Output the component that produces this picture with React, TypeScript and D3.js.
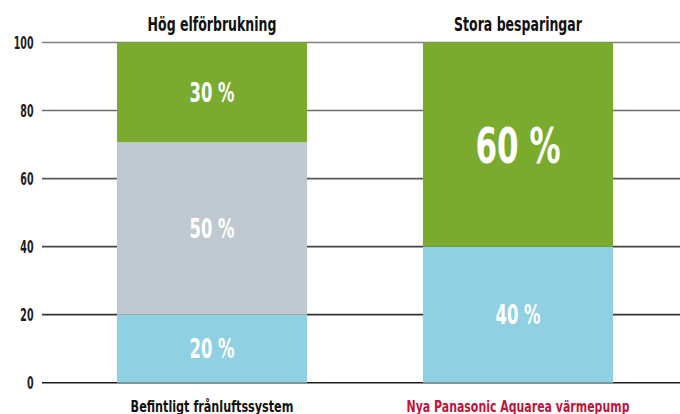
import React, { useLayoutEffect, useRef, useState } from "react";
import * as d3 from "d3";

const categories = ["Befintligt frånluftssystem", "Nya Panasonic Aquarea värmepump"];
const topTitles = ["Hög elförbrukning", "Stora besparingar"];
// segment heights as drawn in the picture
const segBlue = [20, 40];
const segGray = [50.7, 0];
const segGreen = [29.3, 60];
// printed labels
const labelBlue = ["20 %", "40 %"];
const labelGray = ["50 %", ""];
const labelGreen = ["30 %", "60 %"];
const yTicks = [0, 20, 40, 60, 80, 100];

const W = 680;
const H = 414;
const FONT = "'DejaVu Sans Condensed', 'DejaVu Sans', sans-serif";

// rendered widths (styling only) to mimic the condensed face of the reference
const titleWidths = [129, 128];
const catWidths = [163, 223];
const tickDigitWidth = 6.6;
const smallLabelWidth = 45;
const bigLabelWidth = 85;

type FitProps = {
  x: number;
  y: number;
  width: number;
  anchor: "start" | "middle" | "end";
  fontSize: number;
  fill: string;
  dy?: string;
  children: React.ReactNode;
};

function FitText({ x, y, width, anchor, fontSize, fill, dy, children }: FitProps) {
  const ref = useRef<SVGTextElement>(null);
  const [sx, setSx] = useState(1);
  useLayoutEffect(() => {
    if (ref.current) {
      const w = ref.current.getComputedTextLength();
      if (w > 0) setSx(width / w);
    }
  }, [width, children, fontSize]);
  return (
    <text
      ref={ref}
      x={0}
      y={0}
      dy={dy}
      textAnchor={anchor}
      fontSize={fontSize}
      fontWeight="bold"
      fill={fill}
      transform={`translate(${x},${y}) scale(${sx},1)`}
    >
      {children}
    </text>
  );
}

export default function App() {
  const x = d3.scaleBand<string>().domain(categories).range([42, 688]).paddingInner(0.379).paddingOuter(0.245);
  const y = d3.scaleLinear().domain([0, 100]).range([382.7, 42.5]);
  const gridColor = d3.scaleLinear<string>().domain([0, 100]).range(["#1e1e1e", "#808080"]);

  const series = [
    { key: "blue", vals: segBlue, labels: labelBlue, color: "#8fd0e2" },
    { key: "gray", vals: segGray, labels: labelGray, color: "#bfc9cf" },
    { key: "green", vals: segGreen, labels: labelGreen, color: "#7aab2f" },
  ];

  const stacks = categories.map((c, i) => {
    let base = 0;
    return series.map((s) => {
      const v = s.vals[i];
      const seg = { cat: c, y0: base, y1: base + v, v, label: s.labels[i], color: s.color, key: s.key };
      base += v;
      return seg;
    });
  });

  const bw = x.bandwidth();

  return (
    <svg width={W} height={H} style={{ position: "absolute", left: 0, top: 0, fontFamily: FONT }}>
      <rect width={W} height={H} fill="#ffffff" />
      {yTicks.map((t) => (
        <g key={t}>
          <line x1={42} x2={680} y1={y(t)} y2={y(t)} stroke={gridColor(t)} strokeWidth={1.6} />
          <FitText
            x={33.5}
            y={y(t)}
            dy="0.36em"
            anchor="end"
            fontSize={17}
            fill="#1a1a1a"
            width={String(t).length * tickDigitWidth}
          >
            {t}
          </FitText>
        </g>
      ))}
      {stacks.map((segs) =>
        segs
          .filter((s) => s.v > 0)
          .map((s) => {
            const cx = (x(s.cat) as number) + bw / 2;
            const cy = (y(s.y0) + y(s.y1)) / 2;
            const big = s.v >= 60;
            return (
              <g key={s.cat + s.key}>
                <rect x={x(s.cat)} y={y(s.y1)} width={bw} height={y(s.y0) - y(s.y1)} fill={s.color} />
                <FitText
                  x={cx}
                  y={cy}
                  dy="0.36em"
                  anchor="middle"
                  fontSize={big ? 50 : 27}
                  fill="#ffffff"
                  width={big ? bigLabelWidth : smallLabelWidth}
                >
                  {s.label}
                </FitText>
              </g>
            );
          })
      )}
      {categories.map((c, i) => {
        const cx = (x(c) as number) + bw / 2;
        return (
          <g key={c}>
            <FitText x={cx} y={31.3} anchor="middle" fontSize={19} fill="#111111" width={titleWidths[i]}>
              {topTitles[i]}
            </FitText>
            <FitText
              x={cx}
              y={411.5}
              anchor="middle"
              fontSize={16.5}
              fill={i === 0 ? "#111111" : "#c0143c"}
              width={catWidths[i]}
            >
              {c}
            </FitText>
          </g>
        );
      })}
    </svg>
  );
}
